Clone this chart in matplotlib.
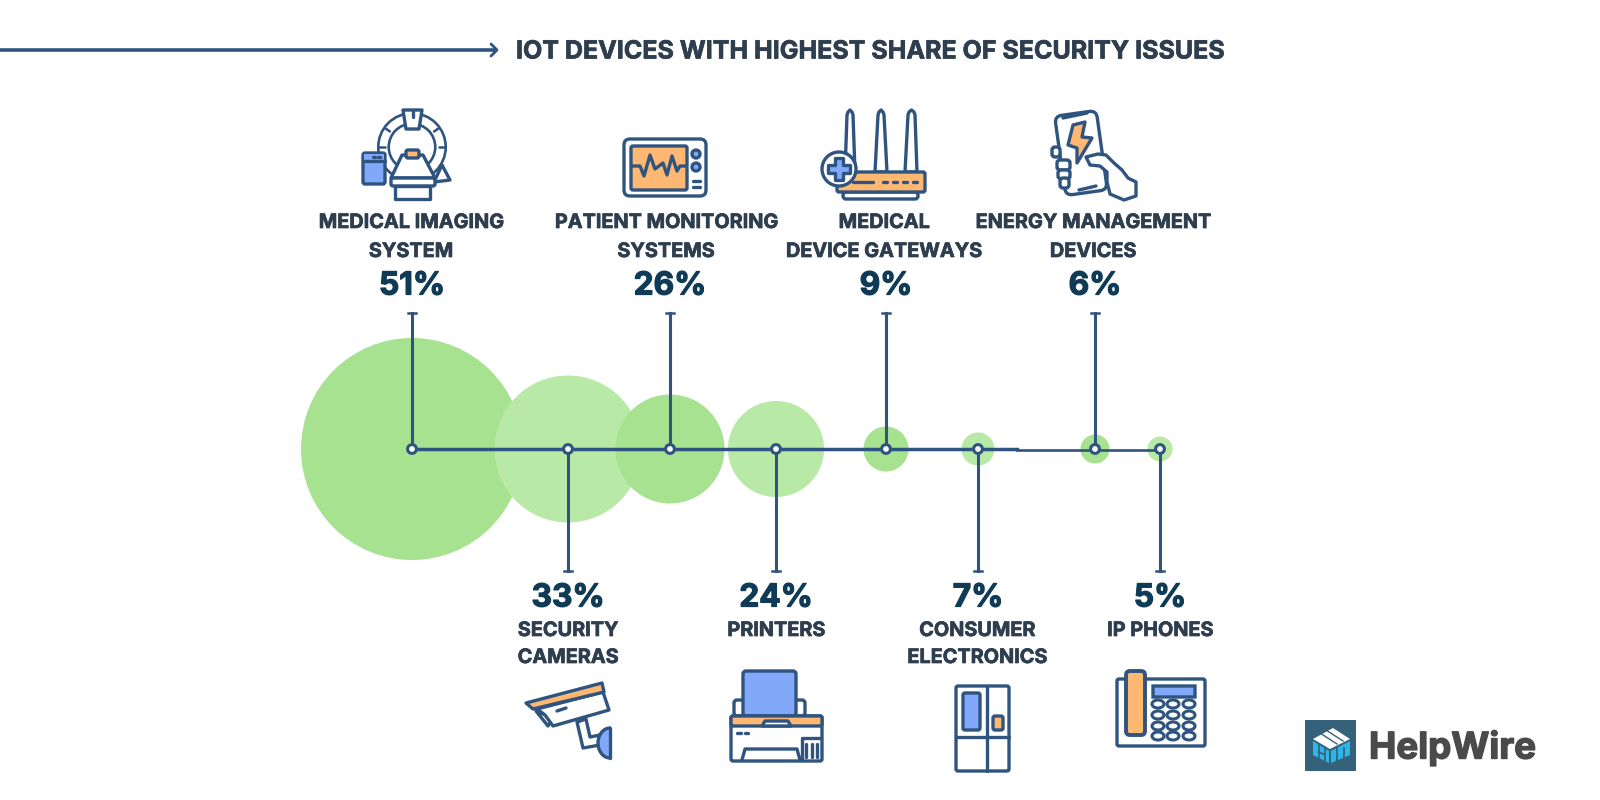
import numpy as np
import matplotlib
matplotlib.use('Agg')
import matplotlib.pyplot as plt
import matplotlib.patheffects as pe
from matplotlib.patches import Circle, Ellipse, Polygon, FancyBboxPatch, Rectangle
from matplotlib.transforms import Affine2D

plt.rcParams['font.family'] = ['Inter', 'DejaVu Sans']

# CHART VALUES
categories = [['MEDICAL IMAGING', 'SYSTEM'], ['SECURITY', 'CAMERAS'],
              ['PATIENT MONITORING', 'SYSTEMS'], ['PRINTERS'],
              ['MEDICAL', 'DEVICE GATEWAYS'], ['CONSUMER', 'ELECTRONICS'],
              ['ENERGY MANAGEMENT', 'DEVICES'], ['IP PHONES']]
shares = [51, 33, 26, 24, 9, 7, 6, 5]
title = 'IOT DEVICES WITH HIGHEST SHARE OF SECURITY ISSUES'

# LAYOUT, IN PIXELS OF THE 1600x800 PICTURE
bubble_x = [412, 568, 670, 776, 886, 978, 1095, 1160]
bubble_r = [111, 73.5, 54.5, 48, 22.5, 16.5, 14.5, 12.5]
label_x = [411, 568, 666, 776, 884, 977, 1093, 1160]
axis_y = 449

NAVY = '#2F5480'
DARK_GREEN = '#A6E28F'
LIGHT_GREEN = '#B9E9A7'
TEXT = '#2E3E4E'
PCT = '#0F3B57'
BLUE = '#82A8FA'
ORANGE = '#FFB871'
ICON_LW = 2.4

fig = plt.figure(figsize=(16, 8), dpi=100)
ax = fig.add_axes([0, 0, 1, 1])
ax.set_xlim(0, 1600)
ax.set_ylim(800, 0)
ax.axis('off')


def rect(x0, y0, x1, y1, fc='white', lw=ICON_LW, rad=2, z=5, angle=0):
    box = FancyBboxPatch((x0, y0), x1 - x0, y1 - y0, boxstyle=f'round,pad=0,rounding_size={rad}',
                         fc=fc, ec=NAVY, lw=lw, zorder=z)
    if angle:
        rot = Affine2D().rotate_deg_around((x0 + x1) / 2, (y0 + y1) / 2, angle)
        box.set_transform(rot + ax.transData)
    ax.add_patch(box)


def poly(pts, fc='white', lw=ICON_LW, z=5):
    ax.add_patch(Polygon(pts, closed=True, fc=fc, ec=NAVY, lw=lw, joinstyle='round', zorder=z))


def line(xs, ys, lw=ICON_LW, z=6):
    ax.plot(xs, ys, color=NAVY, lw=lw, solid_capstyle='round', solid_joinstyle='round', zorder=z)


def circ(x, y, r, fc='white', lw=ICON_LW, z=5):
    ax.add_patch(Circle((x, y), r, fc=fc, ec=NAVY, lw=lw, zorder=z))


def label(x, y, s, size, color, ha='center', heavy=0.5):
    ax.text(x, y, s, fontsize=size, fontweight='bold', color=color, ha=ha, va='center',
            path_effects=[pe.withStroke(linewidth=heavy, foreground=color)])


# TITLE AND ARROW
ax.plot([0, 495], [50, 50], color=NAVY, lw=2.6, zorder=3)
line([491, 497, 491], [44, 50, 56], lw=2)
label(516, 52, title, 18, TEXT, ha='left')

# BUBBLES
for i, (x, r) in enumerate(zip(bubble_x, bubble_r)):
    ax.add_patch(Circle((x, axis_y), r, fc=DARK_GREEN if i % 2 == 0 else LIGHT_GREEN, ec='none', zorder=1))

# AXIS LINE, GETS THINNER PAST CONSUMER ELECTRONICS
ax.plot([bubble_x[0], 1017], [axis_y, axis_y], color=NAVY, lw=2.5, zorder=2)
ax.plot([1017, bubble_x[-1]], [axis_y + 0.5, axis_y + 0.5], color=NAVY, lw=1.9, zorder=2)

# STEMS, NODES, LABELS
for i, (x, lx, pct, name) in enumerate(zip(bubble_x, label_x, shares, categories)):
    top = i % 2 == 0
    end = 313 if top else 571
    ax.plot([x, x], [axis_y, end], color=NAVY, lw=2.2, zorder=2)
    ax.plot([x - 4, x + 4], [end, end], color=NAVY, lw=1.8, zorder=2)
    ax.add_patch(Circle((x, axis_y), 4.4, fc='white', ec=NAVY, lw=2.2, zorder=4))
    if top:
        label(x, 286, f'{pct}%', 22.8, PCT, heavy=0.9)
        ys = [223, 252] if len(name) == 2 else [252]
    else:
        label(x, 598, f'{pct}%', 22.8, PCT, heavy=0.9)
        ys = [631, 658] if len(name) == 2 else [631]
    for y, row in zip(ys, name):
        label(lx, y, row, 14.3, TEXT)

# ICON: MRI SCANNER
ax.add_patch(Circle((412, 147), 28.5, fc='none', ec=NAVY, lw=9.4, zorder=5))
ax.add_patch(Circle((412, 147), 28.5, fc='none', ec='white', lw=5.6, zorder=5))
for a in [35, 145, 180, 0]:
    t = np.radians(a)
    line([412 + 27 * np.cos(t), 412 + 33 * np.cos(t)], [147 - 27 * np.sin(t), 147 - 33 * np.sin(t)], lw=1.8, z=5)
poly([(442, 165), (450, 180), (434, 182)], z=4)
poly([(403, 110), (422, 110), (419, 129), (406, 129)])
line([413, 413], [110, 117])
rect(363, 153, 385, 184, fc=BLUE, rad=2)
ax.add_patch(Rectangle((364, 154), 20, 6, fc=BLUE, ec='none', zorder=6))
line([363, 385], [161, 161])
line([373, 375], [157, 157])
line([378, 380], [157, 157])
poly([(402, 155), (423, 155), (435, 178), (391, 178)])
rect(406, 150, 419, 158, fc=ORANGE)
rect(391, 178, 435, 186)
poly([(395, 186), (430, 186), (430, 199), (395, 199)])

# ICON: PATIENT MONITOR
rect(624, 139, 706, 196, rad=6)
rect(631, 146, 687, 190, fc=ORANGE)
line([632, 640, 644, 650, 655, 663, 667, 672, 677, 680, 686],
     [166, 166, 176, 155, 169, 163, 175, 156, 171, 166, 166])
circ(696, 154, 4, fc=BLUE)
circ(696, 167, 4, fc=BLUE)
line([693, 700], [181, 181])
line([693, 700], [187, 187])

# ICON: ROUTER
for b0, b1, t0, t1 in [(845, 855, 847, 853), (875, 887, 878, 884), (905, 917, 908, 915)]:
    mid = (t0 + t1) / 2
    poly([(b0, 172), (t0, 115), (t0 + 1, 112), (mid, 110), (t1 - 1, 112), (t1, 115), (b1, 172)], z=4)
rect(837, 172, 925, 192, fc=ORANGE, rad=2)
rect(843, 192, 918, 199, rad=3, z=4)
line([853, 873], [182, 182])
for x in [885, 895, 905, 915]:
    line([x - 2, x + 2], [182, 182])
circ(839, 169, 17)
poly([(835, 158), (843, 158), (843, 165), (850, 165), (850, 173), (843, 173), (843, 180),
      (835, 180), (835, 173), (828, 173), (828, 165), (835, 165)], fc=BLUE, z=6)

# ICON: PHONE IN HAND
rect(1060, 113, 1102, 193, rad=7, angle=-8)
line([1063, 1087], [118, 113])
poly([(1073, 125), (1085, 122), (1082, 137), (1092, 138), (1077, 163), (1077, 148), (1068, 145)], fc=ORANGE, z=6)
line([1079, 1096], [190, 186])
poly([(1086, 157), (1098, 154), (1106, 155), (1114, 163), (1122, 170), (1128, 178), (1136, 182), (1136, 196),
      (1124, 200), (1110, 194), (1107, 182), (1107, 172), (1100, 166), (1090, 165)], z=7)
for x0, y0, x1, y1 in [(1052, 147, 1060, 157), (1057, 160, 1070, 170), (1058, 170, 1070, 179), (1060, 178, 1069, 188)]:
    rect(x0, y0, x1, y1, rad=3, z=6)

# ICON: SECURITY CAMERA
poly([(536, 711), (548, 726), (553, 718)])
poly([(537, 709), (603, 692), (609, 710), (553, 726), (545, 715)])
poly([(526, 703), (602, 683), (604, 692), (533, 709)], fc=ORANGE, z=6)
line([557, 566], [711, 708])
poly([(577, 722), (586, 719), (590, 737), (600, 735), (600, 745), (583, 748)], z=4)
ax.add_patch(Ellipse((610, 743), 24, 30, fc=BLUE, ec=NAVY, lw=ICON_LW, zorder=4))
ax.add_patch(Rectangle((611, 725), 15, 36, fc='white', ec='none', zorder=4.5))
line([610, 610], [728, 758], z=5)

# ICON: PRINTER
rect(734, 700, 748, 716, rad=3, z=3)
rect(791, 700, 805, 716, rad=3, z=3)
rect(743, 671, 796, 716, fc=BLUE, rad=3, z=4)
rect(731, 716, 822, 761, rad=2)
rect(731, 716, 822, 726, fc=ORANGE, rad=2)
poly([(762, 726), (765, 721), (788, 721), (791, 726)], z=6)
line([737, 741], [733, 733])
line([745, 748], [733, 733])
line([742, 745, 797, 800], [760, 749, 749, 760])
line([802, 802, 821], [760, 738, 738])
for x in [806, 812, 817]:
    line([x, x], [744, 757])

# ICON: FRIDGE
rect(956, 686, 1009, 771, rad=2)
line([987, 987], [686, 771])
line([956, 1009], [737, 737])
rect(963, 693, 980, 730, fc=BLUE, rad=2)
rect(993, 716, 1003, 730, fc=ORANGE, rad=2)

# ICON: DESK PHONE
rect(1117, 679, 1205, 746, rad=2)
rect(1126, 671, 1145, 735, fc=ORANGE, rad=4, lw=2.8)
rect(1153, 686, 1195, 697, fc=BLUE, rad=0)
for y in [704, 715, 726, 736]:
    for x in [1158, 1173, 1189]:
        ax.add_patch(Ellipse((x, y), 12, 8, fc='white', ec=NAVY, lw=2.2, zorder=6))

# LOGO
TEAL = '#33627A'
SKY = '#2FB4E6'
ax.add_patch(Rectangle((1305, 720), 51, 51, fc=TEAL, ec='none', zorder=5))
ax.add_patch(Polygon([(1313, 739), (1333, 728), (1350, 739), (1330, 749)], fc='white', ec='none', zorder=6))
ax.add_patch(Polygon([(1313, 741), (1329, 751), (1329, 763), (1313, 755)], fc=SKY, ec='none', zorder=6))
ax.add_patch(Polygon([(1331, 751), (1350, 741), (1350, 755), (1331, 763)], fc=SKY, ec='none', zorder=6))
for x0, y0, x1, y1 in [(1320, 733, 1337, 744), (1326, 730, 1343, 741)]:
    ax.plot([x0, x1], [y0, y1], color=TEAL, lw=1, zorder=7)
for x in [1337, 1344]:
    ax.plot([x, x], [748, 761], color=TEAL, lw=1.2, zorder=7)
ax.plot([1319, 1319], [745, 758], color=TEAL, lw=1.2, zorder=7)
ax.plot([1325, 1325], [748, 761], color=TEAL, lw=1.2, zorder=7)
ax.plot([1319, 1325], [752, 755], color=TEAL, lw=1.2, zorder=7)
label(1369, 748, 'HelpWire', 26.4, '#4A4A4A', ha='left', heavy=1)

fig.savefig('out.png', dpi=100, facecolor='white')
